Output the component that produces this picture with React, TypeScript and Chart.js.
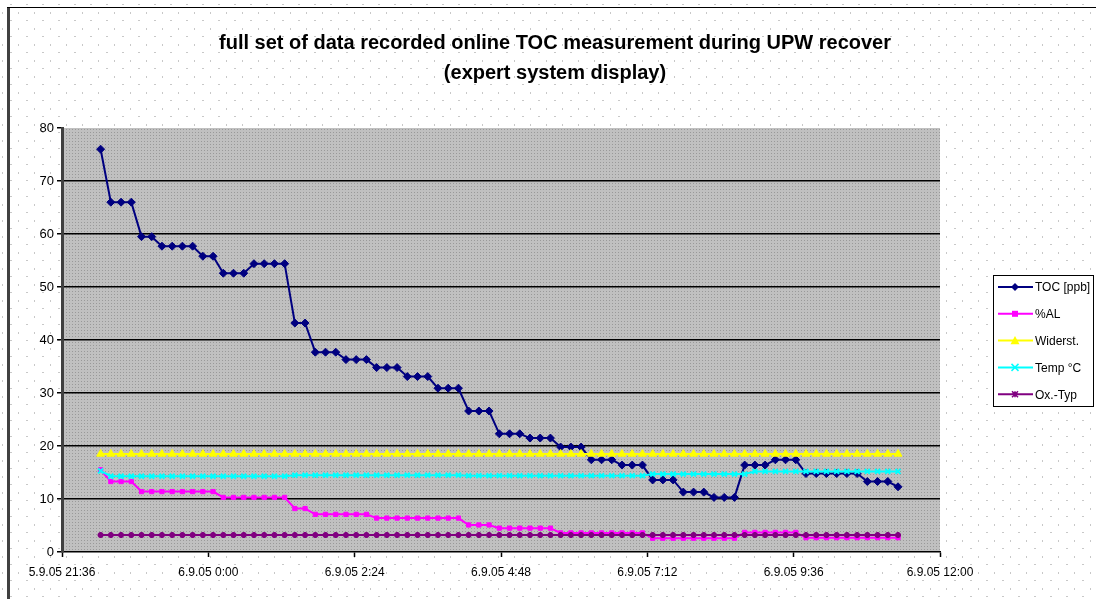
import React, { useEffect, useRef } from 'react';
import { Chart, registerables } from 'chart.js';

Chart.register(...registerables);

const TITLE_LINES = [
  'full set of data recorded online TOC measurement during UPW recover',
  '(expert system display)',
];

// x axis: minutes after 5.9.05 21:36
const X_TICK_LABELS = ['5.9.05 21:36', '6.9.05 0:00', '6.9.05 2:24', '6.9.05 4:48', '6.9.05 7:12', '6.9.05 9:36', '6.9.05 12:00'];
const X_TICK_STEP_MIN = 144;
const SAMPLE_START_MIN = 38;
const SAMPLE_STEP_MIN = 10.06;

const SERIES_NAMES = ['TOC [ppb]', '%AL', 'Widerst.', 'Temp °C', 'Ox.-Typ'];

const TOC = [
  76, 66, 66, 66, 59.5, 59.5, 57.7, 57.7, 57.7, 57.7,
  55.8, 55.8, 52.6, 52.6, 52.6, 54.4, 54.4, 54.4, 54.4, 43.2,
  43.2, 37.7, 37.7, 37.7, 36.3, 36.3, 36.3, 34.8, 34.8, 34.8,
  33.1, 33.1, 33.1, 30.9, 30.9, 30.9, 26.6, 26.6, 26.6, 22.3,
  22.3, 22.3, 21.5, 21.5, 21.5, 19.8, 19.8, 19.8, 17.4, 17.4,
  17.4, 16.4, 16.4, 16.4, 13.6, 13.6, 13.6, 11.3, 11.3, 11.3,
  10.3, 10.3, 10.3, 16.4, 16.4, 16.4, 17.4, 17.4, 17.4, 14.8,
  14.8, 14.8, 14.8, 14.8, 14.8, 13.3, 13.3, 13.3, 12.3,
];

const AL = [
  15.5, 13.3, 13.3, 13.3, 11.4, 11.4, 11.4, 11.4, 11.4, 11.4,
  11.4, 11.4, 10.3, 10.3, 10.3, 10.3, 10.3, 10.3, 10.3, 8.2,
  8.2, 7.1, 7.1, 7.1, 7.1, 7.1, 7.1, 6.4, 6.4, 6.4,
  6.4, 6.4, 6.4, 6.4, 6.4, 6.4, 5.1, 5.1, 5.1, 4.5,
  4.5, 4.5, 4.5, 4.5, 4.5, 3.6, 3.6, 3.6, 3.6, 3.6,
  3.6, 3.6, 3.6, 3.6, 2.6, 2.6, 2.6, 2.6, 2.6, 2.6,
  2.6, 2.6, 2.6, 3.7, 3.7, 3.7, 3.7, 3.7, 3.7, 2.7,
  2.7, 2.7, 2.7, 2.7, 2.7, 2.7, 2.7, 2.7, 2.7,
];

const WIDERST = [
  18.5, 18.5, 18.5, 18.5, 18.5, 18.5, 18.5, 18.5, 18.5, 18.5,
  18.5, 18.5, 18.5, 18.5, 18.5, 18.5, 18.5, 18.5, 18.5, 18.5,
  18.5, 18.5, 18.5, 18.5, 18.5, 18.5, 18.5, 18.5, 18.5, 18.5,
  18.5, 18.5, 18.5, 18.5, 18.5, 18.5, 18.5, 18.5, 18.5, 18.5,
  18.5, 18.5, 18.5, 18.5, 18.5, 18.5, 18.5, 18.5, 18.5, 18.5,
  18.5, 18.5, 18.5, 18.5, 18.5, 18.5, 18.5, 18.5, 18.5, 18.5,
  18.5, 18.5, 18.5, 18.5, 18.5, 18.5, 18.5, 18.5, 18.5, 18.5,
  18.5, 18.5, 18.5, 18.5, 18.5, 18.5, 18.5, 18.5, 18.5,
];

const TEMP = [
  15.3, 14.3, 14.3, 14.3, 14.3, 14.3, 14.3, 14.3, 14.3, 14.3,
  14.3, 14.3, 14.3, 14.3, 14.3, 14.3, 14.3, 14.3, 14.3, 14.5,
  14.5, 14.5, 14.5, 14.5, 14.5, 14.5, 14.5, 14.5, 14.5, 14.5,
  14.5, 14.5, 14.5, 14.5, 14.5, 14.5, 14.4, 14.4, 14.4, 14.4,
  14.4, 14.4, 14.4, 14.4, 14.4, 14.4, 14.4, 14.4, 14.4, 14.4,
  14.4, 14.4, 14.4, 14.4, 14.7, 14.7, 14.7, 14.7, 14.7, 14.7,
  14.7, 14.7, 14.7, 14.7, 15.2, 15.2, 15.2, 15.2, 15.2, 15.2,
  15.2, 15.2, 15.2, 15.2, 15.2, 15.2, 15.2, 15.2, 15.2,
];

const OXTYP = [
  3.2, 3.2, 3.2, 3.2, 3.2, 3.2, 3.2, 3.2, 3.2, 3.2,
  3.2, 3.2, 3.2, 3.2, 3.2, 3.2, 3.2, 3.2, 3.2, 3.2,
  3.2, 3.2, 3.2, 3.2, 3.2, 3.2, 3.2, 3.2, 3.2, 3.2,
  3.2, 3.2, 3.2, 3.2, 3.2, 3.2, 3.2, 3.2, 3.2, 3.2,
  3.2, 3.2, 3.2, 3.2, 3.2, 3.2, 3.2, 3.2, 3.2, 3.2,
  3.2, 3.2, 3.2, 3.2, 3.2, 3.2, 3.2, 3.2, 3.2, 3.2,
  3.2, 3.2, 3.2, 3.2, 3.2, 3.2, 3.2, 3.2, 3.2, 3.2,
  3.2, 3.2, 3.2, 3.2, 3.2, 3.2, 3.2, 3.2, 3.2,
];

const COLORS = ['#000080', '#ff00ff', '#ffff00', '#00ffff', '#800080'];
const MARKERS = ['rectRot', 'rect', 'triangle', 'crossRot', 'star'];
const MARKER_R = [4, 3, 4.5, 3.5, 3];

const FONT = "'Liberation Sans', Arial, sans-serif";

function toPoints(values: number[]) {
  return values.map((v, i) => ({ x: SAMPLE_START_MIN + i * SAMPLE_STEP_MIN, y: v }));
}

function drawMarker(ctx: CanvasRenderingContext2D, kind: string, x: number, y: number, r: number, color: string) {
  ctx.save();
  ctx.fillStyle = color;
  ctx.strokeStyle = color;
  ctx.lineWidth = 1.5;
  ctx.beginPath();
  if (kind === 'rectRot') {
    ctx.moveTo(x, y - r); ctx.lineTo(x + r, y); ctx.lineTo(x, y + r); ctx.lineTo(x - r, y); ctx.closePath(); ctx.fill();
  } else if (kind === 'rect') {
    ctx.rect(x - r, y - r, 2 * r, 2 * r); ctx.fill();
  } else if (kind === 'triangle') {
    ctx.moveTo(x, y - r); ctx.lineTo(x + r, y + r * 0.8); ctx.lineTo(x - r, y + r * 0.8); ctx.closePath(); ctx.fill();
  } else if (kind === 'crossRot') {
    ctx.moveTo(x - r, y - r); ctx.lineTo(x + r, y + r); ctx.moveTo(x + r, y - r); ctx.lineTo(x - r, y + r); ctx.stroke();
  } else {
    ctx.moveTo(x - r, y - r); ctx.lineTo(x + r, y + r); ctx.moveTo(x + r, y - r); ctx.lineTo(x - r, y + r);
    ctx.moveTo(x - r, y); ctx.lineTo(x + r, y); ctx.moveTo(x, y - r); ctx.lineTo(x, y + r); ctx.stroke();
  }
  ctx.restore();
}

const backgroundPlugin = {
  id: 'excelBackground',
  beforeDraw(chart: any) {
    const { ctx, width, height } = chart;
    const { left, top, right, bottom } = chart.chartArea;
    ctx.save();
    ctx.fillStyle = '#ffffff';
    ctx.fillRect(0, 0, width, height);
    ctx.fillStyle = '#c8c8c8';
    for (let y = 4; y < height; y += 16) for (let x = 10; x < width; x += 16) ctx.fillRect(x, y, 2, 1);
    for (let y = 12; y < height; y += 16) for (let x = 2; x < width; x += 16) ctx.fillRect(x, y, 1, 2);
    ctx.fillStyle = '#404040';
    ctx.fillRect(7, 7, 3, height - 7);
    ctx.fillStyle = '#000000';
    ctx.fillRect(7, 7, width - 7, 1);
    ctx.fillStyle = '#c0c0c0';
    ctx.fillRect(left, top, right - left, bottom - top);
    ctx.fillStyle = '#999999';
    for (let y = Math.round(top) + 1; y < bottom; y += 3) {
      for (let x = Math.round(left) + 1; x < right; x += 3) ctx.fillRect(x, y, 1, 1);
    }
    ctx.restore();
  },
};

const titleLegendPlugin = {
  id: 'titleLegend',
  afterDraw(chart: any) {
    const { ctx } = chart;
    ctx.save();
    ctx.fillStyle = '#000';
    ctx.textAlign = 'center';
    ctx.textBaseline = 'middle';
    ctx.font = `bold 20px ${FONT}`;
    ctx.fillText(TITLE_LINES[0], 555, 43);
    ctx.fillText(TITLE_LINES[1], 555, 73);

    // legend box
    const bx = 993, by = 275, bw = 101, bh = 132;
    ctx.fillStyle = '#ffffff';
    ctx.fillRect(bx, by, bw, bh);
    ctx.strokeStyle = '#000';
    ctx.lineWidth = 1;
    ctx.strokeRect(bx + 0.5, by + 0.5, bw - 1, bh - 1);
    ctx.font = `12px ${FONT}`;
    ctx.textAlign = 'left';
    SERIES_NAMES.forEach((name, i) => {
      const y = 287 + i * 26.8;
      ctx.strokeStyle = COLORS[i];
      ctx.lineWidth = 2;
      ctx.beginPath();
      ctx.moveTo(998, y);
      ctx.lineTo(1033, y);
      ctx.stroke();
      drawMarker(ctx, MARKERS[i], 1015, y, MARKER_R[i], COLORS[i]);
      ctx.fillStyle = '#000';
      ctx.fillText(name, 1035, y + 1);
    });
    ctx.restore();
  },
};

export default function App() {
  const ref = useRef<HTMLCanvasElement>(null);

  useEffect(() => {
    if (!ref.current) return;
    const seriesValues = [TOC, AL, WIDERST, TEMP, OXTYP];
    const chart = new Chart(ref.current, {
      type: 'line',
      data: {
        datasets: seriesValues.map((vals, i) => ({
          label: SERIES_NAMES[i],
          data: toPoints(vals),
          borderColor: COLORS[i],
          backgroundColor: COLORS[i],
          borderWidth: 2,
          pointStyle: MARKERS[i] as any,
          pointRadius: MARKER_R[i],
          pointBorderWidth: i === 3 || i === 4 ? 2 : 1,
          pointBorderColor: COLORS[i],
          pointBackgroundColor: COLORS[i],
          tension: 0,
          order: 4 - i,
        })),
      },
      options: {
        responsive: false,
        animation: false,
        events: [],
        layout: { padding: { left: 0, top: 128, right: 156, bottom: 0 } },
        plugins: {
          legend: { display: false },
          title: { display: false },
          tooltip: { enabled: false },
        },
        scales: {
          x: {
            type: 'linear',
            min: 0,
            max: X_TICK_STEP_MIN * (X_TICK_LABELS.length - 1),
            afterFit: (s: any) => { s.height = 47; },
            ticks: {
              stepSize: X_TICK_STEP_MIN,
              autoSkip: false,
              maxRotation: 0,
              padding: 8,
              color: '#000',
              font: { family: FONT, size: 12 },
              callback: (v: any) => X_TICK_LABELS[Math.round(Number(v) / X_TICK_STEP_MIN)] ?? '',
            },
            grid: { drawOnChartArea: false, drawTicks: true, tickLength: 5, tickColor: '#000', tickWidth: 1.5 },
            border: { display: true, color: '#000', width: 1.5 },
          },
          y: {
            type: 'linear',
            min: 0,
            max: 80,
            afterFit: (s: any) => { s.width = 62; },
            ticks: {
              stepSize: 10,
              padding: 3,
              color: '#000',
              font: { family: FONT, size: 13 },
            },
            grid: {
              color: (c: any) => (c.tick && c.tick.value > 0 && c.tick.value < 80 ? '#000' : 'rgba(0,0,0,0)'),
              lineWidth: 1.5,
              drawTicks: true,
              tickLength: 5,
              tickColor: '#000',
            },
            border: { display: true, color: '#404040', width: 3 },
          },
        },
      },
      plugins: [backgroundPlugin, titleLegendPlugin],
    });
    return () => chart.destroy();
  }, []);

  return (
    <div style={{ position: 'absolute', left: 0, top: 0, width: 1096, height: 599 }}>
      <canvas ref={ref} width={1096} height={599} style={{ display: 'block' }} />
    </div>
  );
}
